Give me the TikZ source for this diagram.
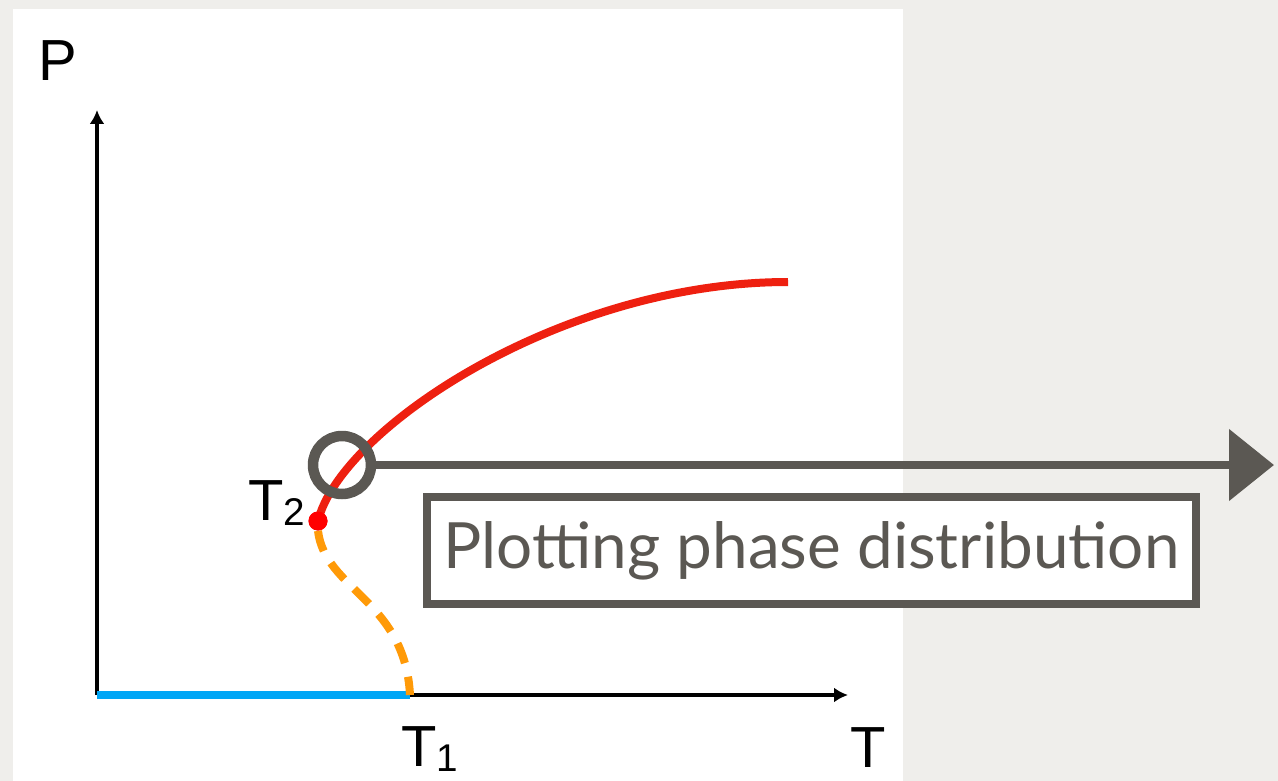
\documentclass[tikz,border=0pt]{standalone}
\usepackage{fontspec}
\setmainfont{Liberation Sans}
\newfontfamily\capfont{Lato}
\usetikzlibrary{arrows.meta}
\definecolor{paper}{HTML}{EFEEEB}
\definecolor{stone}{HTML}{5B5853}
\definecolor{hotred}{HTML}{EE2010}
\definecolor{dotred}{HTML}{FF0000}
\definecolor{skyblue}{HTML}{00A6F6}
\definecolor{amber}{HTML}{FF9A08}
\newcommand{\lowidx}[1]{{\fontsize{22}{24}\selectfont\raisebox{-.12em}{#1}}}
\tikzset{>=Latex,
  every node/.style={font=\fontsize{33}{36}\selectfont},
  axis/.style={-{Latex[length=.28cm,width=.3cm]},draw=black,line width=.065cm},
  stable/.style={draw=skyblue,line width=.16cm},
  curve/.style={draw=hotred,line width=.16cm},
  spinodal/.style={draw=amber,line width=.16cm,dash pattern=on .42cm off .28cm},
  marker/.style={circle,fill=dotred,inner sep=0pt,minimum size=.38cm},
  ring/.style={circle,draw=stone,line width=.21cm,inner sep=0pt,minimum size=1.16cm},
  pointer/.style={-{Triangle[length=.9cm,width=1.4cm]},draw=stone,line width=.17cm},
  caption/.style={draw=stone,fill=white,line width=.16cm,text=stone,
    font=\capfont\fontsize{36.3}{40}\selectfont,
    minimum width=15.38cm,minimum height=2.14cm,inner sep=0pt}}

\begin{document}
\begin{tikzpicture}[x=.02cm,y=-.02cm]
\useasboundingbox(0,0)rectangle(1278,781);
\fill[paper](0,0)rectangle(1278,781);
\fill[white](13,9)rectangle(903,781);
\coordinate(origin)at(97,695);
\coordinate(ytip)at(97,110);
\coordinate(xtip)at(848,695);
\coordinate(Tone)at(410,695);
\coordinate(redend)at(788,282);
\coordinate(arrowend)at(1274,465);
\draw[axis](origin)--(ytip);
\draw[axis](origin)--(xtip);
\draw[stable](origin)--(Tone);
\node[marker](Ttwo)at(318,521){};
\draw[spinodal](Ttwo.south)..controls(325,590)and(405,600)..(Tone);
\draw[curve](Ttwo.center)..controls(340,430)and(560,282)..(redend);
\node[marker]at(Ttwo){};
\node(Plab)at(58,61){P};
\node[inner sep=1pt](Tlab)at(868,748){T};
\node[inner sep=1pt](Tonelab)at(430,749){T\lowidx{1}};
\node(Ttwolab)at(277,503){T\lowidx{2}};
\node[ring](zoom)at(342,465){};
\draw[pointer](zoom.east)--(arrowend);
\node[caption](cap)at(811.5,550.5){Plotting phase distribution};
\end{tikzpicture}
\end{document}
